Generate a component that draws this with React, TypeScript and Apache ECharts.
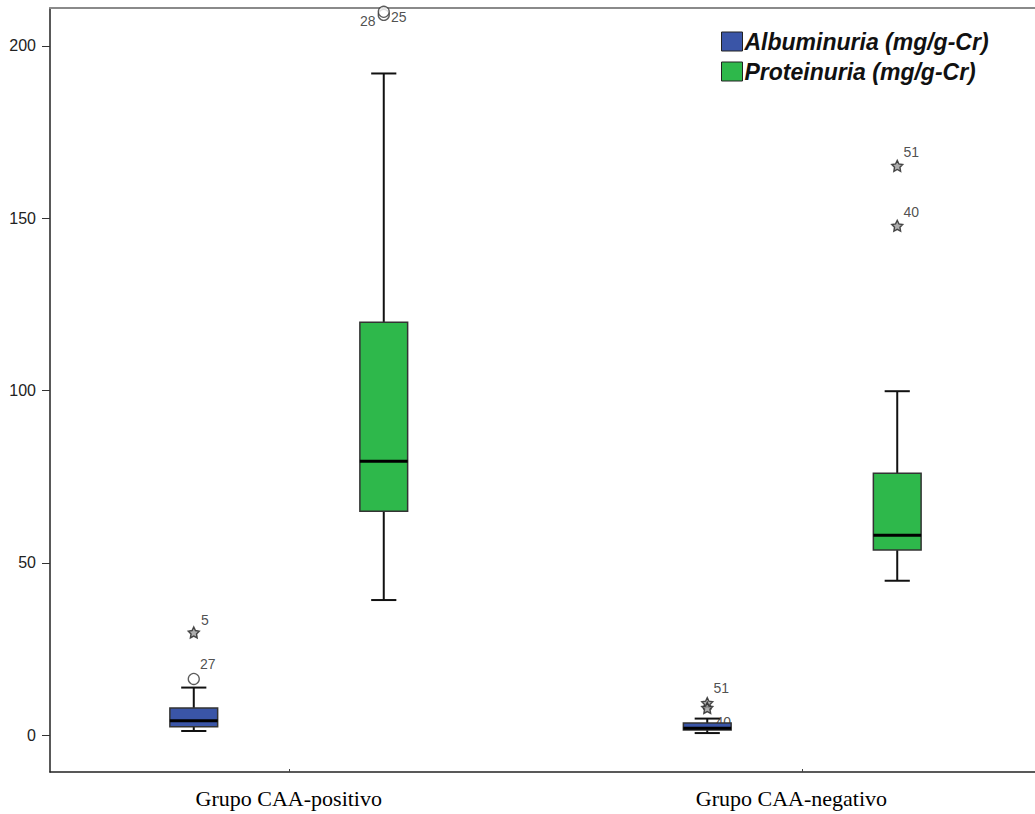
import React, { useEffect, useRef } from 'react';
import * as echarts from 'echarts';

const categories = ['Grupo CAA-positivo', 'Grupo CAA-negativo'];
const seriesNames = ['Albuminuria (mg/g-Cr)', 'Proteinuria (mg/g-Cr)'];
// [min, Q1, median, Q3, max] for each group
const albuminuriaBox = [
  [1.2, 2.4, 4.2, 7.9, 13.8],
  [0.6, 1.5, 2.0, 3.5, 4.8],
];
const proteinuriaBox = [
  [39.2, 65.0, 79.5, 119.8, 192.0],
  [44.8, 53.7, 58.0, 76.0, 99.8],
];
// outliers: [groupIndex, value, case id, kind]
const albuminuriaOutliers: [number, number, string, string][] = [
  [0, 29.8, '5', 'extreme'],
  [0, 16.3, '27', 'outlier'],
  [1, 9.3, '51', 'extreme'],
  [1, 7.9, '40', 'extreme'],
];
const proteinuriaOutliers: [number, number, string, string][] = [
  [0, 209.0, '28', 'outlier'],
  [0, 209.9, '25', 'outlier'],
  [1, 165.2, '51', 'extreme'],
  [1, 147.8, '40', 'extreme'],
];
const yTicks = [0, 50, 100, 150, 200];

// ---- layout / style constants ----
const X_MIN = -0.465;
const X_MAX = 1.4533;
const Y_MIN = -10.7;
const Y_MAX = 211;
const DODGE = 0.185;
const BOX_W = 0.093;
const CAP_W = 0.049;
const LABEL_POS = [0, 0.979];
const COLORS = ['#3A55A7', '#2EB84B'];
const STAR =
  'path://M0,-10L2.94,-4.05L9.51,-3.09L4.76,1.55L5.88,8.09L0,5L-5.88,8.09L-4.76,1.55L-9.51,-3.09L-2.94,-4.05Z';
// label placement per outlier (same order as the outlier arrays)
const albLabelPos = [
  { position: 'right', distance: 1, offset: [0, -12] },
  { position: 'right', distance: 0, offset: [0, -15] },
  { position: 'right', distance: 0, offset: [0, -15] },
  { position: 'right', distance: 2, offset: [0, 14] },
];
const proLabelPos = [
  { position: 'left', distance: 2, offset: [0, 6] },
  { position: 'right', distance: 1, offset: [0, 5] },
  { position: 'right', distance: 0, offset: [0, -14] },
  { position: 'right', distance: 0, offset: [0, -14] },
];

function makeBoxRender(offset: number, color: string) {
  return (params: any, api: any) => {
    const x = api.value(0) + offset;
    const p = api.coord([x, api.value(1)]);
    const xc = p[0];
    const yMin = p[1];
    const yQ1 = api.coord([x, api.value(2)])[1];
    const yMed = api.coord([x, api.value(3)])[1];
    const yQ3 = api.coord([x, api.value(4)])[1];
    const yMax = api.coord([x, api.value(5)])[1];
    const bw = api.size([BOX_W, 0])[0];
    const cw = api.size([CAP_W, 0])[0];
    const ls = { stroke: '#111', lineWidth: 2 };
    return {
      type: 'group',
      children: [
        { type: 'line', shape: { x1: xc, y1: yQ3, x2: xc, y2: yMax }, style: ls },
        { type: 'line', shape: { x1: xc, y1: yQ1, x2: xc, y2: yMin }, style: ls },
        { type: 'line', shape: { x1: xc - cw / 2, y1: yMax, x2: xc + cw / 2, y2: yMax }, style: ls },
        { type: 'line', shape: { x1: xc - cw / 2, y1: yMin, x2: xc + cw / 2, y2: yMin }, style: ls },
        {
          type: 'rect',
          shape: { x: xc - bw / 2, y: yQ3, width: bw, height: yQ1 - yQ3 },
          style: { fill: color, stroke: '#333', lineWidth: 1.5 },
        },
        {
          type: 'line',
          shape: { x1: xc - bw / 2, y1: yMed, x2: xc + bw / 2, y2: yMed },
          style: { stroke: '#000', lineWidth: 3 },
        },
      ],
    };
  };
}

function outlierData(list: [number, number, string, string][], offset: number, pos: any[]) {
  return list.map((o, i) => ({
    value: [o[0] + offset, o[1]],
    symbol: o[3] === 'extreme' ? STAR : 'circle',
    symbolSize: 11,
    itemStyle:
      o[3] === 'extreme'
        ? { color: '#9a9a9a', borderColor: '#222', borderWidth: 1.4 }
        : { color: '#fff', borderColor: '#333', borderWidth: 1.3 },
    label: {
      show: true,
      formatter: o[2],
      position: pos[i].position,
      distance: pos[i].distance,
      offset: pos[i].offset,
    },
  }));
}

export default function App() {
  const ref = useRef<HTMLDivElement>(null);
  useEffect(() => {
    if (!ref.current) return;
    const chart = echarts.init(ref.current, null, { renderer: 'svg' });
    const labelFont = { fontFamily: 'Liberation Sans', fontSize: 16, color: '#222' };
    chart.setOption({
      animation: false,
      color: COLORS,
      grid: { left: 50, right: -1, top: 8, bottom: 42 },
      legend: {
        data: seriesNames,
        orient: 'vertical',
        left: 716,
        top: 25,
        itemWidth: 21,
        itemHeight: 19,
        itemGap: 7,
        icon: 'rect',
        itemStyle: { borderColor: '#222', borderWidth: 1 },
        textStyle: {
          fontFamily: 'Liberation Sans',
          fontSize: 23,
          fontStyle: 'italic',
          fontWeight: 'bold',
          color: '#111',
          padding: [0, 0, 0, -3],
        },
      },
      xAxis: [
        {
          type: 'value',
          min: X_MIN,
          max: X_MAX,
          splitLine: { show: false },
          axisLine: { show: true, onZero: false, lineStyle: { color: '#222', width: 1.5 } },
          axisTick: { show: true, customValues: [0, 1], inside: true, length: 3, lineStyle: { color: '#444' } },
          axisLabel: {
            customValues: LABEL_POS,
            formatter: (v: number) => categories[Math.round(v)] ?? '',
            fontFamily: 'Liberation Serif',
            fontSize: 22,
            color: '#000',
            margin: 15,
          },
        },
        {
          type: 'value',
          position: 'top',
          min: X_MIN,
          max: X_MAX,
          splitLine: { show: false },
          axisLine: { show: true, onZero: false, lineStyle: { color: '#8a8a8a', width: 2 } },
          axisTick: { show: false },
          axisLabel: { show: false },
        },
      ],
      yAxis: {
        type: 'value',
        min: Y_MIN,
        max: Y_MAX,
        splitLine: { show: false },
        axisLine: { show: true, onZero: false, lineStyle: { color: '#222', width: 1.5 } },
        axisTick: { show: true, customValues: yTicks, length: 8, lineStyle: { color: '#333' } },
        axisLabel: { customValues: yTicks, margin: 14, ...labelFont },
      },
      series: [
        {
          name: seriesNames[0],
          type: 'custom',
          itemStyle: { color: COLORS[0] },
          renderItem: makeBoxRender(-DODGE, COLORS[0]),
          encode: { x: 0, y: [1, 2, 3, 4, 5] },
          data: albuminuriaBox.map((b, i) => [i, ...b]),
          z: 3,
        },
        {
          name: seriesNames[1],
          type: 'custom',
          itemStyle: { color: COLORS[1] },
          renderItem: makeBoxRender(DODGE, COLORS[1]),
          encode: { x: 0, y: [1, 2, 3, 4, 5] },
          data: proteinuriaBox.map((b, i) => [i, ...b]),
          z: 3,
        },
        {
          name: 'Albuminuria outliers',
          type: 'scatter',
          clip: false,
          label: { ...labelFont, fontSize: 14 },
          data: outlierData(albuminuriaOutliers, -DODGE, albLabelPos),
          z: 2,
        },
        {
          name: 'Proteinuria outliers',
          type: 'scatter',
          clip: false,
          label: { ...labelFont, fontSize: 14 },
          data: outlierData(proteinuriaOutliers, DODGE, proLabelPos),
          z: 4,
        },
      ],
    });
    return () => chart.dispose();
  }, []);
  return (
    <div
      ref={ref}
      style={{ position: 'fixed', left: 0, top: 0, width: 1035, height: 814, background: '#fff' }}
    />
  );
}
